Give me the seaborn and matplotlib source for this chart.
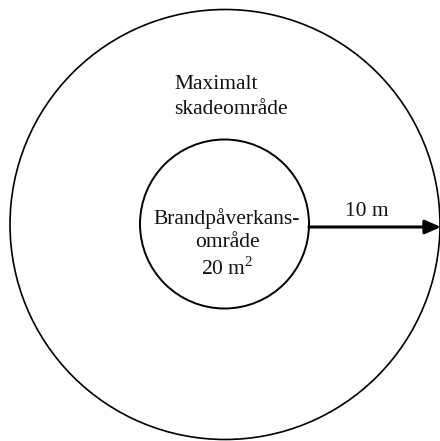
import matplotlib
matplotlib.use("Agg")
import matplotlib.pyplot as plt
from matplotlib.patches import Circle
import seaborn as sns

# Diagram content
outer_label = "Maximalt\nskadeområde"
inner_label = "Brandpåverkans-\nområde\n20 m$^2$"
arrow_label = "10 m"

# Geometry (pixel-like coordinate system)
outer_center = (225, 224.5)
outer_radius = 215
inner_center = (224.5, 224)
inner_radius = 84.5

sns.set_theme(style="white")
plt.rcParams['font.family'] = ['Liberation Serif', 'DejaVu Serif']
plt.rcParams['mathtext.fontset'] = 'custom'
plt.rcParams['mathtext.rm'] = 'Liberation Serif'

fig = plt.figure(figsize=(4.4, 4.41), dpi=100)
ax = fig.add_axes([0, 0, 1, 1])
ax.set_xlim(0, 440)
ax.set_ylim(441, 0)
ax.set_aspect('equal')
ax.axis('off')

ax.add_patch(Circle(outer_center, outer_radius, fill=False, ec='black', lw=1.2))
ax.add_patch(Circle(inner_center, inner_radius, fill=False, ec='black', lw=1.4))

ax.annotate("", xy=(441, 227), xytext=(inner_center[0] + inner_radius, 227),
            annotation_clip=False,
            arrowprops=dict(arrowstyle='-|>,head_length=0.8,head_width=0.35',
                            color='black', lw=2.2, shrinkA=0, shrinkB=0))

fs = 15.5
ax.text(174, 97, outer_label, ha='left', va='center', fontsize=fs,
        color='#111111', linespacing=1.48)
ax.text(227, 244, inner_label, ha='center', va='center', fontsize=fs,
        color='#111111', linespacing=1.3)
ax.text(367, 212, arrow_label, ha='center', va='center', fontsize=fs,
        color='#111111')

fig.savefig("out.png", dpi=100, facecolor='white')
